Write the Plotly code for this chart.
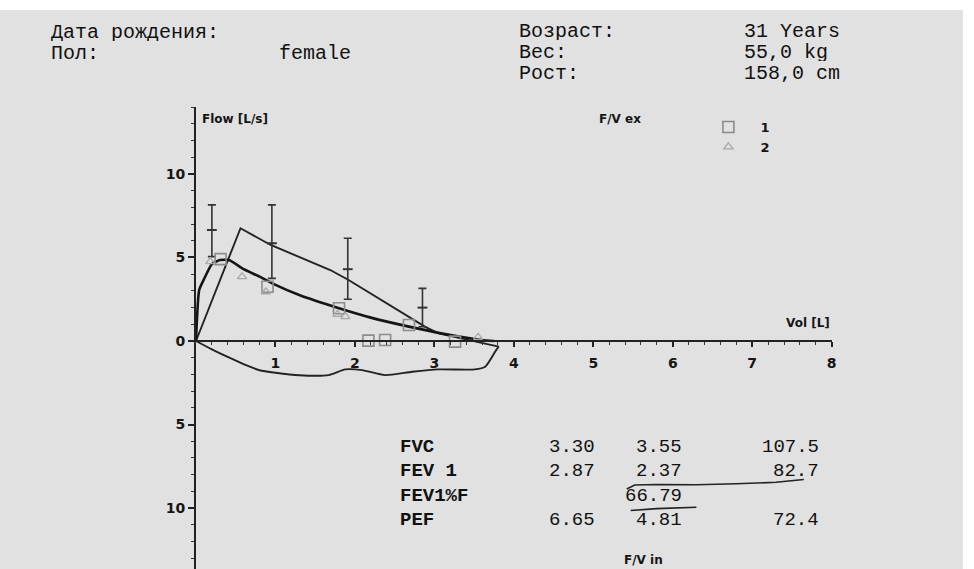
import plotly.graph_objects as go

W, H = 974, 569

# ---------------- data ----------------
# predicted / reference polygon (expiratory)
pred_vol = [0, 0.56, 0.94, 1.69, 1.92, 2.88, 3.05, 3.81]
pred_flow = [0, 6.75, 5.75, 4.25, 3.65, 0.86, 0.46, -0.34]

# inspiratory limb
insp_vol = [3.81, 3.77, 3.64, 3.51, 3.05, 2.72, 2.38, 2.09, 1.88, 1.67, 1.3, 1.0, 0.8, 0.63, 0.42, 0.2, 0]
insp_flow = [-0.34, -0.6, -1.54, -1.7, -1.7, -1.84, -2.04, -1.74, -1.7, -2.04, -2.05, -1.9, -1.75, -1.45, -1.0, -0.5, 0]

# measured smooth expiratory curve
meas_vol = [0, 0.04, 0.1, 0.2, 0.3, 0.415, 0.6, 0.8, 0.96, 1.3, 1.8, 2.2, 2.68, 3.1, 3.6, 3.75]
meas_flow = [0, 3.05, 3.7, 4.6, 4.85, 4.85, 4.3, 3.85, 3.45, 2.75, 1.96, 1.4, 0.86, 0.45, 0.06, 0.0]

# series markers
s1_vol = [0.31, 0.9, 1.8, 2.17, 2.38, 2.68, 3.26]
s1_flow = [4.9, 3.25, 1.96, 0.02, 0.06, 0.96, -0.04]
s2_vol = [0.18, 0.58, 0.88, 1.78, 1.88, 3.55]
s2_flow = [4.75, 3.85, 2.95, 1.6, 1.46, 0.22]

# predicted ranges (error bars)
eb_vol = [0.2, 0.955, 1.91, 2.85]
eb_mid = [6.65, 5.85, 4.3, 2.0]
eb_plus = [1.5, 2.3, 1.85, 1.15]
eb_minus = [1.6, 2.1, 1.8, 1.15]

x_tickvals = [1, 2, 3, 4, 5, 6, 7, 8]
y_tickvals = [-10, -5, 0, 5, 10]
y_ticktext = ["10", "5", "0", "5", "10"]

header_left = [("Дата рождения:", 50, 32), ("Пол:", 50, 53), ("female", 279, 53)]
header_mid = [("Возраст:", 521, 31), ("Вес:", 521, 52), ("Рост:", 521, 73)]
header_right = [("31 Years", 747, 31), ("55,0 kg", 747, 52), ("158,0 cm", 747, 73)]

table_labels = ["FVC", "FEV 1", "FEV1%F", "PEF"]
table_pred = ["3.30", "2.87", "", "6.65"]
table_meas = ["3.55", "2.37", "66.79", "4.81"]
table_pct = ["107.5", "82.7", "", "72.4"]
table_rows_y = [447, 471, 496, 520]

INK = "#151515"


def fx(p):
    return p / W


def fy(p):
    return 1 - p / H


fig = go.Figure()

fig.add_trace(go.Scatter(x=pred_vol, y=pred_flow, mode="lines",
                         line=dict(color="#222", width=1.9), showlegend=False,
                         hoverinfo="skip"))
fig.add_trace(go.Scatter(x=insp_vol, y=insp_flow, mode="lines",
                         line=dict(color="#222", width=1.9, shape="spline", smoothing=0.6),
                         showlegend=False, hoverinfo="skip"))
fig.add_trace(go.Scatter(x=meas_vol, y=meas_flow, mode="lines",
                         line=dict(color=INK, width=2.6, shape="spline", smoothing=0.5),
                         showlegend=False, hoverinfo="skip"))
fig.add_trace(go.Scatter(x=eb_vol, y=eb_mid, mode="markers",
                         marker=dict(symbol="line-ew-open", size=7, color="#333",
                                     line=dict(color="#333", width=2)),
                         error_y=dict(type="data", array=eb_plus, arrayminus=eb_minus,
                                      color="#333", thickness=1.6, width=4),
                         showlegend=False, hoverinfo="skip"))
fig.add_trace(go.Scatter(x=s1_vol, y=s1_flow, mode="markers", name="1",
                         marker=dict(symbol="square-open", size=11, color="#8c8c8c",
                                     line=dict(width=1.6, color="#8c8c8c"))))
fig.add_trace(go.Scatter(x=s2_vol, y=s2_flow, mode="markers", name="2",
                         marker=dict(symbol="triangle-up-open", size=8, color="#a8a8a8",
                                     line=dict(width=1.3, color="#a8a8a8"))))

tickfont = dict(family="DejaVu Sans", size=14, color=INK, weight="bold")

fig.update_layout(
    width=W, height=H,
    margin=dict(l=0, r=0, t=0, b=0),
    paper_bgcolor="white",
    plot_bgcolor="rgba(0,0,0,0)",
    showlegend=True,
    legend=dict(x=fx(700), y=fy(112), xanchor="left", yanchor="top",
                bgcolor="rgba(0,0,0,0)", font=dict(family="DejaVu Sans", size=13, color=INK, weight="bold"),
                itemwidth=54, tracegroupgap=0),
    xaxis=dict(range=[0, 8], domain=[fx(197), fx(836)], anchor="free", position=(H - 341) / H,
               showline=True, linecolor="#222", linewidth=2, showgrid=False, zeroline=False,
               tickvals=x_tickvals, ticks="outside", ticklen=5, tickwidth=1.5, tickcolor="#222",
               ticklabelstandoff=4,
               minor=dict(dtick=0.2, ticks="outside", ticklen=3, tickcolor="#333", tickwidth=1),
               tickfont=tickfont),
    yaxis=dict(range=[-13.65, 14.01], domain=[0, (H - 107) / H], anchor="x",
               showline=True, linecolor="#222", linewidth=2, showgrid=False, zeroline=False,
               tickvals=y_tickvals, ticktext=y_ticktext, ticks="outside", ticklen=6,
               tickwidth=1.5, tickcolor="#222",
               minor=dict(dtick=1, ticks="outside", ticklen=3, tickcolor="#333", tickwidth=1),
               tickfont=tickfont),
)

# scanned page background
fig.add_shape(type="rect", xref="paper", yref="paper", x0=0, x1=fx(968), y0=0, y1=fy(10),
              fillcolor="#e1e1e1", line=dict(width=0), layer="below")

mono = dict(family="Liberation Mono", size=20, color="#111")
for group in (header_left, header_mid, header_right):
    for txt, x, y in group:
        fig.add_annotation(text=txt, x=fx(x), y=fy(y), xref="paper", yref="paper",
                           xanchor="left", yanchor="middle", showarrow=False, font=mono,
                           height=18, borderpad=0)

tmono = dict(family="Liberation Mono", size=19, color="#111")
for lab, p, m, c, y in zip(table_labels, table_pred, table_meas, table_pct, table_rows_y):
    fig.add_annotation(text=lab, x=fx(400), y=fy(y), xref="paper", yref="paper", xanchor="left",
                       yanchor="middle", showarrow=False, font=dict(tmono, weight="bold"))
    for txt, xr in ((p, 600), (m, 688), (c, 825)):
        if txt:
            fig.add_annotation(text=txt, x=fx(xr), y=fy(y), xref="paper", yref="paper",
                               xanchor="right", yanchor="middle", showarrow=False, font=tmono)

sans = dict(family="DejaVu Sans", size=12, color=INK, weight="bold")
for txt, x, y, anc in (("Flow [L/s]", 201, 119, "left"), ("F/V ex", 600, 119, "left"),
                       ("Vol [L]", 836, 323, "right"), ("F/V in", 625, 560, "left")):
    fig.add_annotation(text=txt, x=fx(x), y=fy(y), xref="paper", yref="paper", xanchor=anc,
                       yanchor="middle", showarrow=False, font=sans)


# handwritten pen strokes
def path(pts):
    s = "M {},{}".format(fx(pts[0][0]), fy(pts[0][1]))
    for a, b in pts[1:]:
        s += " L {},{}".format(fx(a), fy(b))
    return s


fig.add_shape(type="path", xref="paper", yref="paper",
              path=path([(630, 489), (638, 485), (660, 484.5), (700, 484.8), (740, 483.8), (780, 482.3), (808, 479.5)]),
              line=dict(color="#222", width=1.6))
fig.add_shape(type="path", xref="paper", yref="paper",
              path=path([(634, 510.5), (660, 508.6), (700, 507.2)]),
              line=dict(color="#222", width=1.6))

fig.write_html("out.html")
